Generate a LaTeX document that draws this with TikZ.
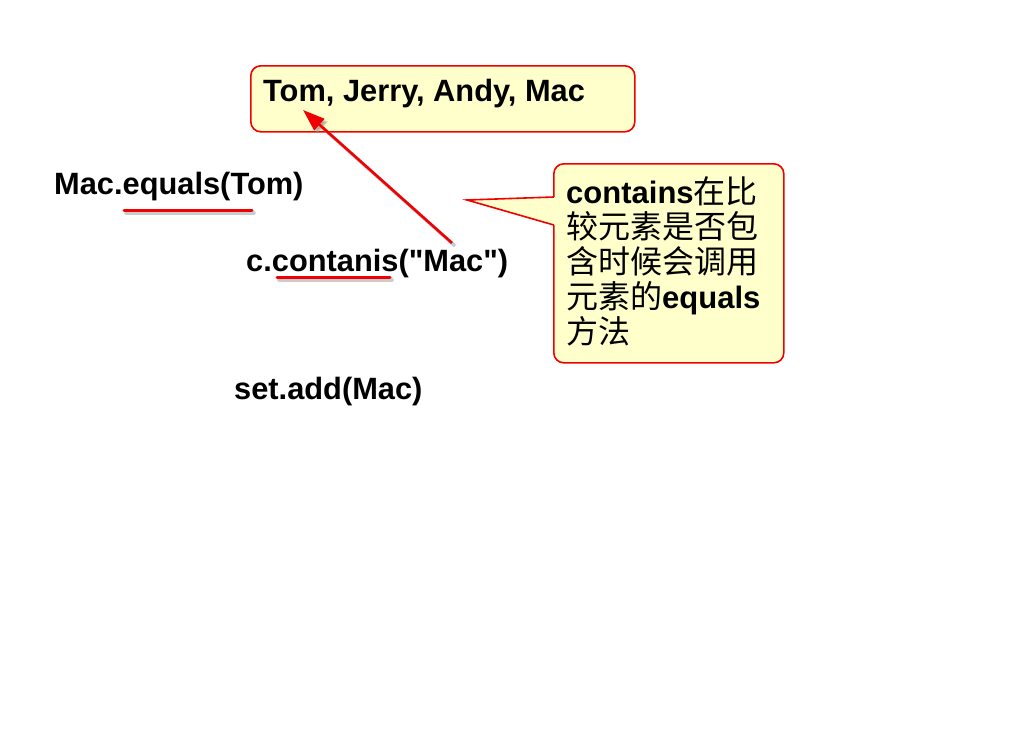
\documentclass[tikz,border=0pt]{standalone}
\usepackage{fontspec}
\setmainfont{Liberation Sans}[Ligatures=TeXOff]
\newfontfamily\cjk{Noto Sans CJK SC}
\usetikzlibrary{arrows.meta}
\definecolor{noteyellow}{RGB}{255,255,204}
\definecolor{notered}{RGB}{240,0,0}
\newcommand{\zh}[1]{{\cjk\mdseries\fontsize{32}{35}\selectfont #1}}
\tikzset{
  code/.style={anchor=base west, inner sep=0pt, font=\fontsize{30.8}{36}\selectfont\bfseries},
  notebox/.style={draw=notered, fill=noteyellow, line width=1.6pt, rounded corners=10pt, inner sep=0pt},
  redline/.style={draw=notered, line width=3pt, line cap=round},
  shadowline/.style={draw=black!45, line width=3.5pt, opacity=0.45, line cap=round},
}
\begin{document}
\begin{tikzpicture}[x=1pt,y=-1pt]
\useasboundingbox[fill=white] (0,0) rectangle (1024,728);

% top box
\node[notebox, anchor=north west, minimum width=384pt, minimum height=66pt] (listbox) at (250,65) {};
\node[code] (list) at (263,101) {Tom, Jerry, Andy, Mac};

% code lines
\node[code] (eq) at (54,194) {Mac.equals(Tom)};
\node[code] (con) at (246,271) {c.contanis("Mac")};
\node[code] (add) at (234,399) {set.add(Mac)};

% underlines
\coordinate (u1a) at (124,210); \coordinate (u1b) at (252,210);
\coordinate (u2a) at (277,277); \coordinate (u2b) at (390,277);
\draw[shadowline] ([shift={(2,3)}]u1a) -- ([shift={(2,3)}]u1b);
\draw[redline] (u1a) -- (u1b);
\draw[shadowline] ([shift={(2,3)}]u2a) -- ([shift={(2,3)}]u2b);
\draw[redline] (u2a) -- (u2b);

% arrow
\coordinate (tail) at (452,243);
\coordinate (tip) at (303,110);
\draw[draw=black!45, opacity=0.45, line width=3.5pt, -{Triangle[length=22pt,width=15pt]}] ([shift={(3,3)}]tail) -- ([shift={(3,3)}]tip);
\draw[draw=notered, fill=notered, line width=2.6pt, -{Triangle[length=22pt,width=15pt]}] (tail) -- (tip);

% callout
\node[notebox, anchor=north west, minimum width=230pt, minimum height=199pt] (note) at (553,163) {};
\coordinate (ptip) at (467,200);
\coordinate (pa) at (553.8,197);
\coordinate (pb) at (553.8,225);
\fill[noteyellow] (pa) ++(2,0) -- (ptip) -- (pb) -- ++(2,0) -- cycle;
\draw[draw=notered, line width=1.6pt, line join=miter] (pa) -- (ptip) -- (pb);
\node[anchor=north west, inner sep=0pt, align=left, font=\fontsize{31}{35}\selectfont\bfseries] (notetext) at (566,176)
  {contains\zh{在比}\\
   \zh{较元素是否包}\\
   \zh{含时候会调用}\\
   \zh{元素的}equals\\
   \zh{方法}};
\end{tikzpicture}
\end{document}
